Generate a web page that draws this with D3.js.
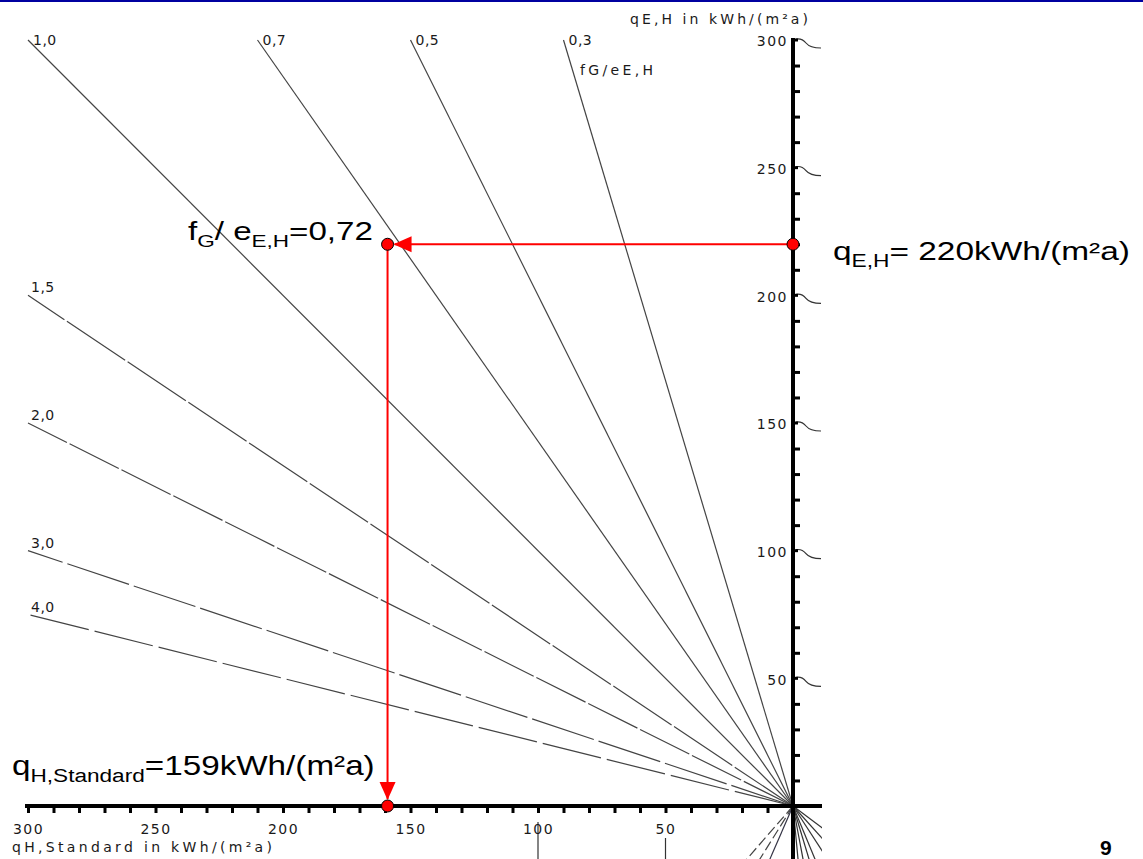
<!DOCTYPE html>
<html>
<head>
<meta charset="utf-8">
<script src="https://cdn.jsdelivr.net/npm/d3@7"></script>
<style>
  html, body { margin: 0; padding: 0; background: #fff; }
  svg { display: block; }
  .small { font-family: "DejaVu Sans", sans-serif; font-size: 14px; fill: #1a1a1a; }
  .big { font-family: "Liberation Sans", Arial, sans-serif; fill: #000; }
</style>
</head>
<body>
<svg id="chart" width="1143" height="859"></svg>
<script>
// Nomogram: heating demand qE,H vs. standard demand qH,Standard, fan of ratios fG/eE,H
const ratiosSteep = [1.0, 0.7, 0.5, 0.3];     // lines ending at the top edge (qE,H = 300)
const ratiosFlat  = [1.5, 2.0, 3.0, 4.0];     // lines ending at the left edge (qH = 300)
const ratioLabels = {1.0: "1,0", 0.7: "0,7", 0.5: "0,5", 0.3: "0,3", 1.5: "1,5", 2.0: "2,0", 3.0: "3,0", 4.0: "4,0"};
const axisMax = 300;
const minorStep = 10;
const labelTicks = [50, 100, 150, 200, 250, 300];

// Worked example
const qEH = 220;          // kWh/(m²a)
const ratioExample = 0.72;
const qHStandard = 159;   // kWh/(m²a)

// Partially visible neighbouring quadrants (angles in degrees from the downward vertical)
const lowerLeftAngles = [41, 32, 23.5];
const lowerRightAngles = [5.4, 10.7, 16.8, 22.5, 33, 42, 53];
const lowerVerticals = [100, 50];

const svg = d3.select("#chart");

// top slide rule
svg.append("rect").attr("x", 0).attr("y", 0).attr("width", 1143).attr("height", 2).attr("fill", "#0000a0");

const x = d3.scaleLinear().domain([0, axisMax]).range([793, 28]);
const y = d3.scaleLinear().domain([0, axisMax]).range([806, 40]);

const clip = svg.append("defs").append("clipPath").attr("id", "plotclip");
clip.append("rect").attr("x", 0).attr("y", 3).attr("width", 822).attr("height", 856);

const g = svg.append("g").attr("clip-path", "url(#plotclip)");

// fan lines through the origin
const dashFor = { 1.5: "70,3", 2.0: "55,3", 3.0: "65,5", 4.0: "60,6" };
const line = d3.line().x(d => x(d[0])).y(d => y(d[1]));
const fanData = ratiosSteep.map(f => ({ f, end: [axisMax * f, axisMax] }))
  .concat(ratiosFlat.map(f => ({ f, end: [axisMax, axisMax / f] })));

g.selectAll("path.fan").data(fanData).join("path")
  .attr("class", "fan")
  .attr("d", d => line([[0, 0], d.end]))
  .attr("fill", "none")
  .attr("stroke", "#444")
  .attr("stroke-width", 1.2)
  .attr("stroke-dasharray", d => dashFor[d.f] || null);

g.selectAll("text.fanlabel").data(fanData).join("text")
  .attr("class", "small fanlabel")
  .attr("x", d => x(d.end[0]) + (d.f <= 1 ? 5 : 3))
  .attr("y", d => y(d.end[1]) + (d.f <= 1 ? 5 : -3))
  .style("letter-spacing", "0.5px")
  .text(d => ratioLabels[d.f]);

g.append("text").attr("class", "small")
  .attr("x", 580).attr("y", 75)
  .attr("textLength", 73).attr("lengthAdjust", "spacing")
  .text("fG/eE,H");

// lower quadrants (cut off at the bottom edge)
const ox = x(0), oy = y(0), reach = 120;
g.selectAll("line.ll").data(lowerLeftAngles).join("line")
  .attr("x1", ox).attr("y1", oy)
  .attr("x2", a => ox - reach * Math.sin(a * Math.PI / 180))
  .attr("y2", a => oy + reach * Math.cos(a * Math.PI / 180))
  .attr("stroke", (a, i) => i === 2 ? "#334" : "#444")
  .attr("stroke-width", 1.2)
  .attr("stroke-dasharray", (a, i) => i === 2 ? null : "10,4");
g.selectAll("line.lr").data(lowerRightAngles).join("line")
  .attr("x1", ox).attr("y1", oy)
  .attr("x2", a => ox + reach * Math.sin(a * Math.PI / 180))
  .attr("y2", a => oy + reach * Math.cos(a * Math.PI / 180))
  .attr("stroke", "#333").attr("stroke-width", 1.2);
g.selectAll("line.lv").data(lowerVerticals).join("line")
  .attr("x1", d => x(d)).attr("x2", d => x(d))
  .attr("y1", (d, i) => oy + (i === 0 ? 16 : 32)).attr("y2", 859)
  .attr("stroke", "#333").attr("stroke-width", 1.2);

// hooks of the right quadrant at the labelled values
g.selectAll("path.hook").data(labelTicks).join("path")
  .attr("d", v => `M${ox + 3},${y(v) - 1} Q${ox + 9},${y(v) - 2} ${ox + 13},${y(v) + 3} T${ox + 28},${y(v) + 8}`)
  .attr("fill", "none").attr("stroke", "#333").attr("stroke-width", 1.2);

// axes
g.append("line").attr("x1", x(axisMax) - 3).attr("x2", 822).attr("y1", oy).attr("y2", oy)
  .attr("stroke", "#000").attr("stroke-width", 4);
g.append("line").attr("x1", ox).attr("x2", ox).attr("y1", y(axisMax) - 2).attr("y2", 859)
  .attr("stroke", "#000").attr("stroke-width", 4);

const xAxis = d3.axisBottom(x)
  .tickValues(d3.range(minorStep, axisMax + 1, minorStep))
  .tickSize(7).tickPadding(11)
  .tickFormat(d => d % 50 === 0 ? d : "");
const gx = g.append("g").attr("transform", `translate(0,${oy})`).call(xAxis);
gx.select(".domain").remove();
gx.selectAll(".tick line").attr("stroke", "#000").attr("stroke-width", 3);
gx.selectAll(".tick text").attr("class", "small").attr("font-size", null).attr("font-family", null)
  .style("letter-spacing", "1.5px");

const yTicks = d3.axisRight(y)
  .tickValues(d3.range(minorStep, axisMax + 1, minorStep).filter(v => v % 50 !== 0))
  .tickSize(7).tickFormat("");
const gy = g.append("g").attr("transform", `translate(${ox},0)`).call(yTicks);
gy.select(".domain").remove();
gy.selectAll(".tick line").attr("stroke", "#000").attr("stroke-width", 3);

const yLabels = d3.axisLeft(y).tickValues(labelTicks).tickSize(0).tickPadding(5);
const gyl = g.append("g").attr("transform", `translate(${ox},0)`).call(yLabels);
gyl.select(".domain").remove();
gyl.selectAll(".tick text").attr("class", "small").attr("font-size", null).attr("font-family", null)
  .attr("dy", "0.42em").style("letter-spacing", "1.5px");
// short stubs at labelled values
g.selectAll("line.ystub").data(labelTicks).join("line")
  .attr("x1", ox).attr("x2", ox + 5).attr("y1", v => y(v)).attr("y2", v => y(v))
  .attr("stroke", "#000").attr("stroke-width", 3);

// axis titles
svg.append("text").attr("class", "small")
  .attr("x", 630).attr("y", 24)
  .attr("textLength", 178).attr("lengthAdjust", "spacing")
  .text("qE,H in kWh/(m²a)");
svg.append("text").attr("class", "small")
  .attr("x", 12).attr("y", 852)
  .attr("textLength", 260).attr("lengthAdjust", "spacing")
  .text("qH,Standard in kWh/(m²a)");

// worked example in red
const defs = svg.select("defs");
defs.append("marker").attr("id", "arrow")
  .attr("viewBox", "0 -9 18 18").attr("markerWidth", 18).attr("markerHeight", 18)
  .attr("refX", 17).attr("refY", 0).attr("orient", "auto").attr("markerUnits", "userSpaceOnUse")
  .append("path").attr("d", "M0,-8L18,0L0,8Z").attr("fill", "#f00");

const pStart = [x(0), y(qEH)];
const pMid = [x(qHStandard), y(qEH)];
const pEnd = [x(qHStandard), y(0)];
const r = 6;

svg.append("line").attr("x1", pStart[0]).attr("y1", pStart[1])
  .attr("x2", pMid[0] + r + 1).attr("y2", pMid[1])
  .attr("stroke", "#f00").attr("stroke-width", 2).attr("marker-end", "url(#arrow)");
svg.append("line").attr("x1", pMid[0]).attr("y1", pMid[1])
  .attr("x2", pEnd[0]).attr("y2", pEnd[1] - r - 1)
  .attr("stroke", "#f00").attr("stroke-width", 2).attr("marker-end", "url(#arrow)");
svg.selectAll("circle.pt").data([pStart, pMid, pEnd]).join("circle")
  .attr("cx", d => d[0]).attr("cy", d => d[1]).attr("r", r)
  .attr("fill", "#f00").attr("stroke", "#000").attr("stroke-width", 1);

// big annotations, stretched horizontally to their target widths
function bigText(x0, base, width, size, parts) {
  const t = svg.append("text").attr("class", "big").attr("x", x0).attr("y", base).attr("font-size", size);
  parts.forEach(p => {
    const s = t.append("tspan").text(p[0]);
    if (p[1]) s.attr("font-size", size * 0.68).attr("dy", 7);
    else s.attr("dy", p[2] ? -7 : 0);
  });
  const w = t.node().getComputedTextLength();
  t.attr("transform", `translate(${x0},0) scale(${width / w},1) translate(${-x0},0)`);
}
bigText(833, 260, 297, 26, [["q"], ["E,H", true], ["= 220kWh/(m²a)", false, true]]);
bigText(188, 240, 185, 25.5, [["f"], ["G", true], ["/ e", false, true], ["E,H", true], ["=" + String(ratioExample).replace(".", ","), false, true]]);
bigText(12, 775, 363, 27, [["q"], ["H,Standard", true], ["=" + qHStandard + "kWh/(m²a)", false, true]]);

// page number
svg.append("text").attr("class", "big").attr("x", 1100).attr("y", 855)
  .attr("font-size", 21).attr("font-weight", "bold").text("9");
</script>
</body>
</html>
